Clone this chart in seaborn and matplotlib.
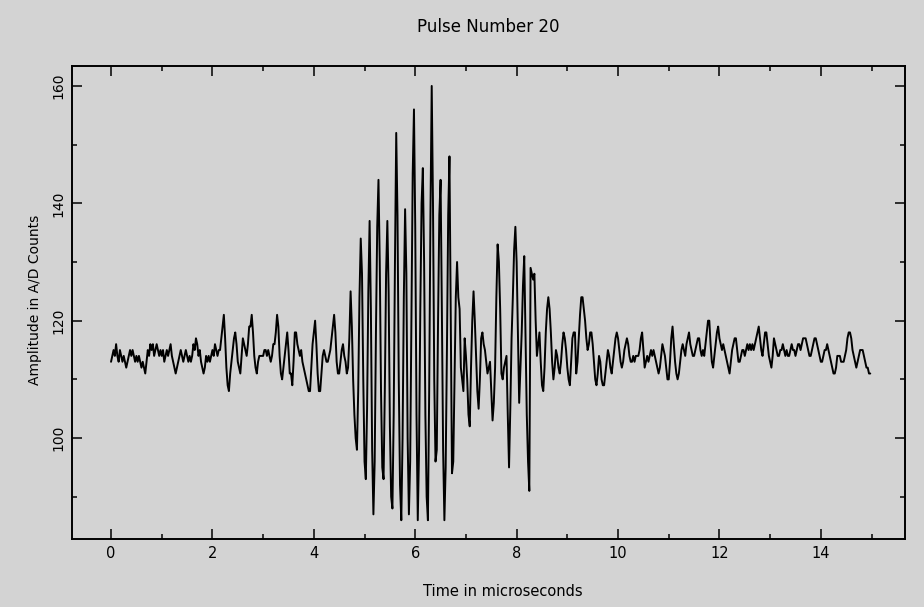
import numpy as np
import pandas as pd
import seaborn as sns
import matplotlib
matplotlib.use("Agg")
import matplotlib.pyplot as plt
from matplotlib.ticker import MultipleLocator

# ---- data: A/D samples (one sample every 0.025 us) ----
sample_interval_us = 0.025

amp_00_01 = [113,114,115,114,116,114,113,115,114,113,
             114,113,112,113,114,115,114,115,114,113,
             114,113,114,113,112,113,112,111,113,115,
             114,116,115,116,114,115,116,115,114,115]
amp_01_02 = [114,115,113,114,115,114,115,116,114,113,
             112,111,112,113,114,115,114,113,114,115,
             114,113,114,113,114,116,115,117,116,114,
             115,113,112,111,112,114,113,114,113,114]
amp_02_03 = [115,114,116,115,114,115,115,117,119,121,
             117,112,109,108,111,113,115,117,118,116,
             113,112,111,114,117,116,115,114,116,119,
             119,121,118,114,112,111,113,114,114,114]
amp_03_04 = [114,115,115,114,115,114,113,114,116,116,
             118,121,119,114,111,110,112,114,116,118,
             115,111,111,109,113,118,118,116,115,114,
             115,113,112,111,110,109,108,108,112,116]
amp_04_05 = [118,120,116,111,108,108,111,114,115,114,
             113,113,114,115,117,119,121,118,113,111,
             111,113,115,116,114,113,111,112,117,125,
             119,110,104,100,98,108,124,134,128,110]
amp_05_06 = [96,93,105,125,137,122,98,87,96,118,
             136,144,130,108,95,93,108,128,137,125,
             102,90,88,104,130,152,138,110,92,86,
             100,124,139,128,100,87,96,120,145,156]
amp_06_07 = [136,104,86,98,122,140,146,130,104,90,
             86,108,138,160,140,110,96,98,120,138,
             144,122,98,86,95,115,138,148,120,94,
             96,110,124,130,124,122,112,110,108,117]
amp_07_08 = [114,110,104,102,112,120,125,120,114,108,
             105,110,117,118,116,115,113,111,112,113,
             108,103,106,112,124,133,130,122,111,110,
             112,113,114,104,95,105,117,124,132,136]
amp_08_09 = [130,118,106,112,118,126,131,118,104,96,
             91,129,128,127,128,120,114,116,118,113,
             109,108,112,118,122,124,122,118,113,110,
             112,115,114,112,111,113,116,118,117,115]
amp_09_10 = [112,110,109,113,117,118,118,111,113,117,
             121,124,124,122,120,117,115,116,118,118,
             116,113,110,109,111,114,113,110,109,109,
             111,113,115,114,112,111,113,115,117,118]
amp_10_11 = [117,115,113,112,113,115,116,117,116,114,
             113,113,114,113,114,114,114,115,117,118,
             115,112,113,114,113,114,115,114,115,114,
             113,112,111,112,114,116,115,114,112,110]
amp_11_12 = [110,113,117,119,116,113,111,110,111,113,
             115,116,115,114,116,117,118,116,115,114,
             114,115,116,117,117,115,114,115,114,116,
             118,120,120,116,113,112,114,116,118,119]
amp_12_13 = [117,116,115,116,115,114,113,112,111,113,
             115,116,117,117,115,113,113,114,115,115,
             114,115,116,115,116,115,116,115,116,117,
             118,119,117,115,114,116,118,118,116,114]
amp_13_14 = [113,112,114,117,116,115,114,114,115,115,
             116,115,114,115,114,114,115,116,115,115,
             114,115,116,116,115,116,117,117,117,116,
             115,114,114,115,116,117,117,116,115,114]
amp_14_15 = [113,113,114,115,115,116,115,114,113,112,
             111,111,112,114,114,114,113,113,113,114,
             115,117,118,118,117,115,114,113,112,113,
             114,115,115,115,114,113,112,112,111,111]

segments = [amp_00_01, amp_01_02, amp_02_03, amp_03_04, amp_04_05,
            amp_05_06, amp_06_07, amp_07_08, amp_08_09, amp_09_10,
            amp_10_11, amp_11_12, amp_12_13, amp_13_14, amp_14_15]
amplitude = np.concatenate([np.asarray(s, dtype=float) for s in segments])
time_us = np.arange(len(amplitude)) * sample_interval_us
df = pd.DataFrame({"time": time_us, "amp": amplitude})

title_text = "Pulse Number 20"
xlabel_text = "Time in microseconds"
ylabel_text = "Amplitude in A/D Counts"

# ---- style ----
bg = "#d3d3d3"
sns.set_theme(style="white")
plt.rcParams["font.family"] = ["DejaVu Sans"]

W, H = 924, 607
fig = plt.figure(figsize=(W / 100, H / 100), dpi=100, facecolor=bg)
L, R, T, B = 72, 905, 66, 539
ax = fig.add_axes([L / W, 1 - B / H, (R - L) / W, (B - T) / H])
ax.set_facecolor(bg)

sns.lineplot(data=df, x="time", y="amp", ax=ax, color="black",
             linewidth=1.4, estimator=None, sort=False)

ax.set_xlim(-0.77, 15.66)
ax.set_ylim(82.8, 163.4)
ax.xaxis.set_major_locator(MultipleLocator(2))
ax.xaxis.set_minor_locator(MultipleLocator(1))
ax.yaxis.set_major_locator(MultipleLocator(20))
ax.yaxis.set_minor_locator(MultipleLocator(10))
ax.tick_params(which="both", direction="in", top=True, right=True,
               bottom=True, left=True, color="black", width=1.1,
               labelsize=10.5, labelcolor="black")
ax.tick_params(which="major", length=7, pad=5)
ax.tick_params(which="minor", length=3.5)
plt.setp(ax.get_yticklabels(), rotation=90, va="center", fontsize=10)
for s in ax.spines.values():
    s.set_color("black")
    s.set_linewidth(1.4)
    s.set_visible(True)

ax.set_xlabel("")
ax.set_ylabel("")
fig.text((L + R) / 2 / W, 1 - 27 / H, title_text, ha="center", va="center",
         fontsize=12, color="black")
fig.text(503 / W, 1 - 591 / H, xlabel_text, ha="center", va="center",
         fontsize=10.5, color="black")
fig.text(35 / W, 1 - 300 / H, ylabel_text, ha="center", va="center",
         rotation=90, fontsize=10, color="black")

fig.savefig("out.png", dpi=100, facecolor=bg)
